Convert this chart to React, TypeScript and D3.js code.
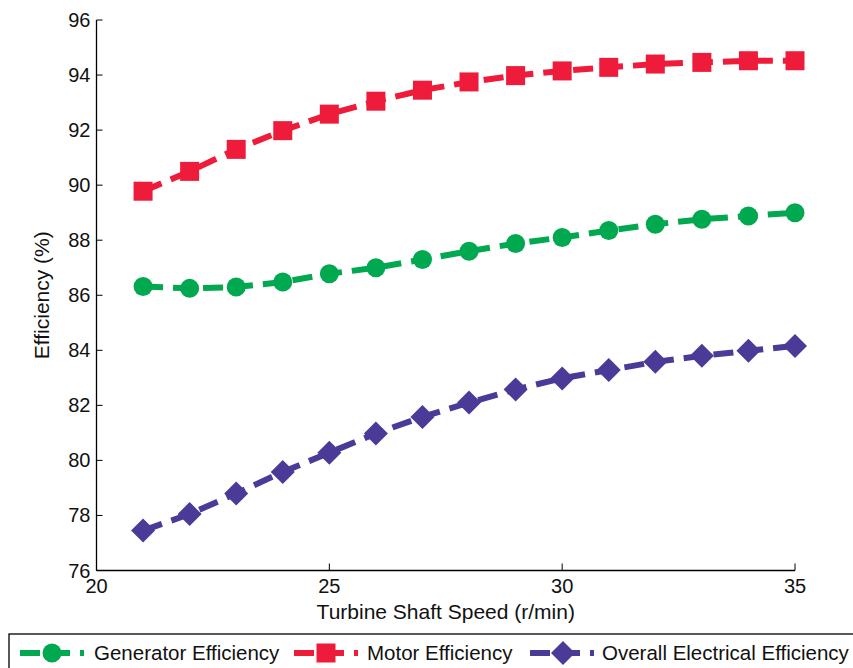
import React from "react";
import * as d3 from "d3";

const speeds = [21, 22, 23, 24, 25, 26, 27, 28, 29, 30, 31, 32, 33, 34, 35];
const generatorEff = [86.32, 86.25, 86.3, 86.48, 86.78, 87.0, 87.3, 87.6, 87.88, 88.1, 88.35, 88.58, 88.76, 88.88, 89.0];
const motorEff = [89.78, 90.5, 91.3, 91.98, 92.58, 93.05, 93.45, 93.75, 93.98, 94.15, 94.28, 94.4, 94.46, 94.52, 94.52];
const overallEff = [77.45, 78.05, 78.8, 79.58, 80.28, 80.98, 81.58, 82.1, 82.58, 82.98, 83.28, 83.58, 83.8, 83.98, 84.16];
const xTicks = [20, 25, 30, 35];
const yTicks = [76, 78, 80, 82, 84, 86, 88, 90, 92, 94, 96];

const W = 853, H = 668;
const left = 96.5, right = 795, top = 20, bottom = 570.5;
const font = "Liberation Sans, Arial, sans-serif";

const x = d3.scaleLinear().domain([20, 35]).range([left, right]);
const y = d3.scaleLinear().domain([76, 96]).range([bottom, top]);

const series = [
  { name: "Generator Efficiency", values: generatorEff, color: "#00A94F", marker: "circle" },
  { name: "Motor Efficiency", values: motorEff, color: "#EE1C3A", marker: "square" },
  { name: "Overall Electrical Efficiency", values: overallEff, color: "#4B3A97", marker: "diamond" },
];

function Marker({ type, cx, cy, color }: { type: string; cx: number; cy: number; color: string }) {
  if (type === "circle") return <circle cx={cx} cy={cy} r={9.5} fill={color} />;
  if (type === "square") return <rect x={cx - 9.5} y={cy - 9.5} width={19} height={19} fill={color} />;
  const s = 12;
  return <path d={`M${cx},${cy - s}L${cx + s},${cy}L${cx},${cy + s}L${cx - s},${cy}Z`} fill={color} />;
}

export default function App() {
  const line = d3.line<number>().x((_, i) => x(speeds[i])).y((d) => y(d));
  const legendItems = [
    { lx: 20, mx: 52, tx: 94 },
    { lx: 294, mx: 326, tx: 367 },
    { lx: 530, mx: 563, tx: 602 },
  ];
  return (
    <svg width={W} height={H} style={{ position: "absolute", left: 0, top: 0 }}>
      <rect width={W} height={H} fill="white" />
      <line x1={left} y1={top} x2={left} y2={bottom} stroke="black" strokeWidth={1.3} />
      <line x1={left} y1={bottom} x2={right} y2={bottom} stroke="black" strokeWidth={1.3} />
      {yTicks.map((t) => (
        <g key={t}>
          <line x1={left} x2={left + 6} y1={y(t)} y2={y(t)} stroke="black" />
          <text x={left - 6} y={y(t)} dy="0.35em" textAnchor="end" fontFamily={font} fontSize={20} fill="#111">{t}</text>
        </g>
      ))}
      {xTicks.map((t) => (
        <g key={t}>
          <line x1={x(t)} x2={x(t)} y1={bottom} y2={bottom - 7} stroke="black" />
          <text x={x(t)} y={bottom + 22} textAnchor="middle" fontFamily={font} fontSize={20} fill="#111">{t}</text>
        </g>
      ))}
      <text x={(left + right) / 2} y={619} textAnchor="middle" fontFamily={font} fontSize={21} fill="#111">Turbine Shaft Speed (r/min)</text>
      <text transform={`translate(49,${(top + bottom) / 2}) rotate(-90)`} textAnchor="middle" fontFamily={font} fontSize={21} fill="#111">Efficiency (%)</text>
      {series.map((s) => (
        <g key={s.name}>
          <path d={line(s.values) || ""} fill="none" stroke={s.color} strokeWidth={6} strokeDasharray="20,10" />
          {s.values.map((v, i) => (
            <Marker key={i} type={s.marker} cx={x(speeds[i])} cy={y(v)} color={s.color} />
          ))}
        </g>
      ))}
      <rect x={9} y={634} width={860} height={60} fill="white" stroke="black" strokeWidth={1.3} />
      {series.map((s, i) => {
        const it = legendItems[i];
        const cy = 653;
        return (
          <g key={s.name}>
            <line x1={it.lx} x2={it.lx + 64} y1={cy} y2={cy} stroke={s.color} strokeWidth={6} strokeDasharray="20,10" />
            <Marker type={s.marker} cx={it.mx} cy={cy} color={s.color} />
            <text x={it.tx} y={cy} dy="0.35em" fontFamily={font} fontSize={20.5} fill="#111">{s.name}</text>
          </g>
        );
      })}
    </svg>
  );
}
